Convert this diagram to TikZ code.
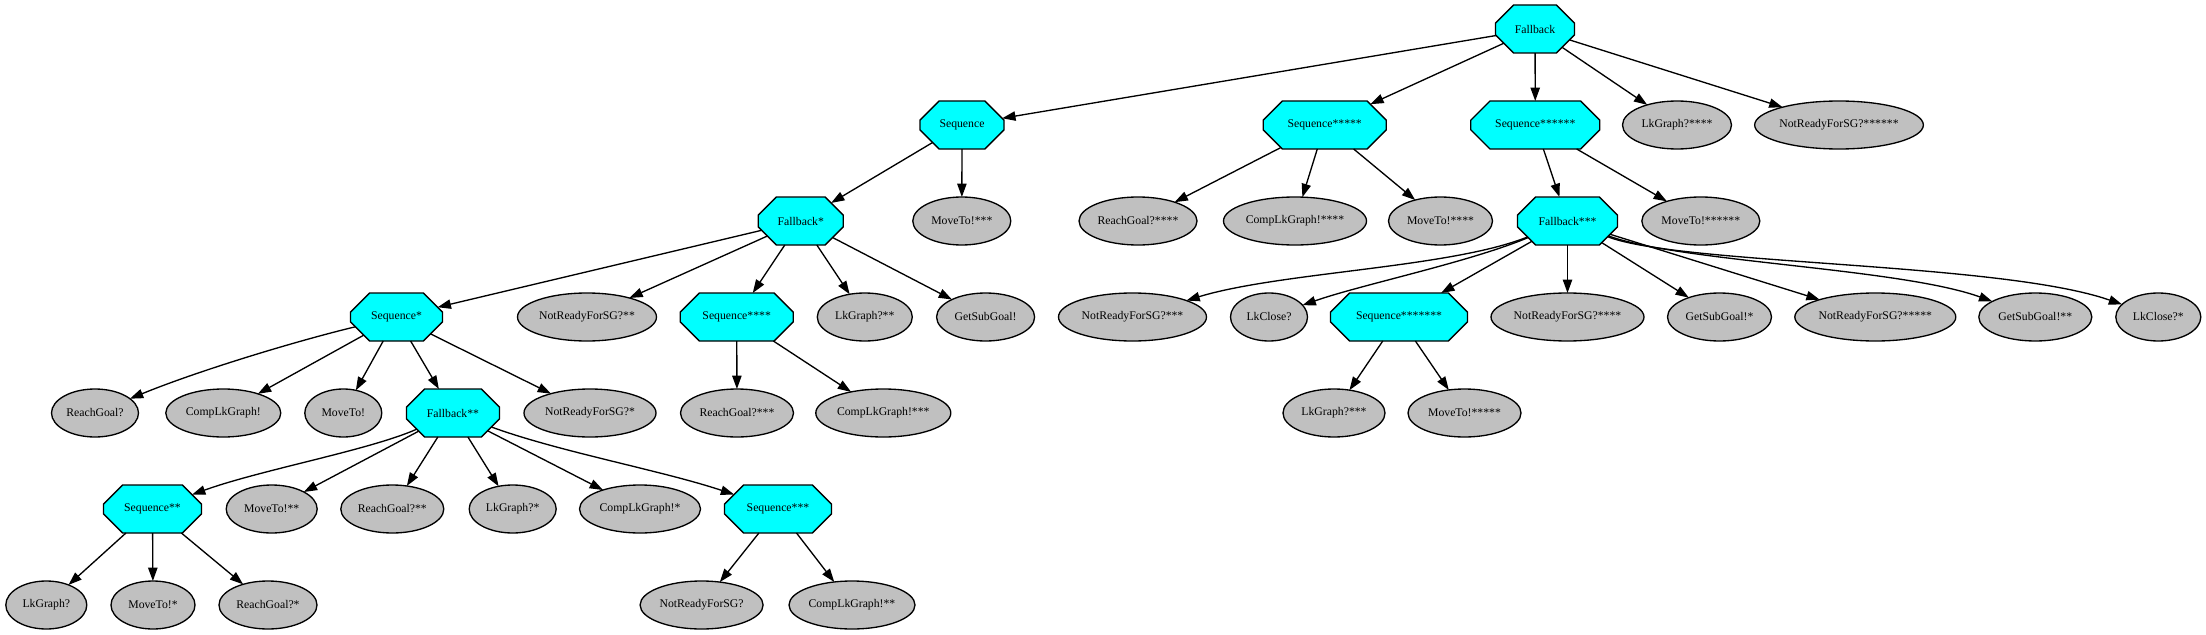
\documentclass[tikz,border=0pt]{standalone}
\usepackage{fontspec}
\setmainfont{Liberation Serif}
\usetikzlibrary{shapes.geometric,shapes.misc,arrows.meta}
\definecolor{ctrlcyan}{RGB}{0,255,255}
\definecolor{leafgray}{RGB}{192,192,192}
\tikzset{
  base/.style={draw=black, line width=1pt, inner sep=0pt, outer sep=0pt,
    font=\fontsize{8.8pt}{10pt}\selectfont, minimum height=36pt},
  leaf/.style={base, ellipse, fill=leafgray},
  ctrl/.style={base, chamfered rectangle, fill=ctrlcyan,
    chamfered rectangle ysep=10.5pt, chamfered rectangle xsep=#1},
  ctrl/.default=11.25pt,
  edge/.style={line width=1pt, -{Triangle[length=10pt,width=7pt]}},
}
\begin{document}
\begin{tikzpicture}[x=0.75pt,y=-0.75pt]
\useasboundingbox (0,0) rectangle (2206,635);
% level 0
\node[ctrl=11.25pt, minimum width=59.25pt] (fb) at (1535,29) {Fallback};
% level 1
\node[ctrl=11.25pt, minimum width=63pt] (seq) at (962,125) {Sequence};
\node[ctrl=18pt, minimum width=92.25pt] (seq5) at (1324.7,125) {Sequence*****};
\node[ctrl=21.75pt, minimum width=96.75pt] (seq6) at (1535.3,125) {Sequence******};
\node[leaf, minimum width=81.75pt] (lk4) at (1677,125) {LkGraph?****};
\node[leaf, minimum width=124.5pt] (nr6) at (1839,125) {NotReadyForSG?******};
% level 2
\node[ctrl=11.25pt, minimum width=63.75pt] (fb1) at (800.8,221) {Fallback*};
\node[leaf, minimum width=73.5pt] (mv3) at (961.8,221) {MoveTo!***};
\node[leaf, minimum width=88.5pt] (rg4) at (1138,221) {ReachGoal?****};
\node[leaf, minimum width=107.25pt] (cl4) at (1295,221) {CompLkGraph!****};
\node[leaf, minimum width=78pt] (mv4) at (1440.5,221) {MoveTo!****};
\node[ctrl=10.5pt, minimum width=75pt] (fb3) at (1567.5,221) {Fallback***};
\node[leaf, minimum width=88.5pt] (mv6) at (1700.8,221) {MoveTo!******};
% level 3
\node[ctrl=14.25pt, minimum width=69pt] (seq1) at (396.5,317) {Sequence*};
\node[leaf, minimum width=104.25pt] (nr2) at (587,317) {NotReadyForSG?**};
\node[ctrl=24pt, minimum width=84.75pt] (seq4) at (736.7,317) {Sequence****};
\node[leaf, minimum width=71.25pt] (lk2) at (864.8,317) {LkGraph?**};
\node[leaf, minimum width=73.5pt] (gs0) at (985.6,317) {GetSubGoal!};
\node[leaf, minimum width=111pt] (nr3) at (1132.5,317) {NotReadyForSG?***};
\node[leaf, minimum width=57.75pt] (lc0) at (1269,317) {LkClose?};
\node[ctrl=27pt, minimum width=102.75pt] (seq7) at (1399,317) {Sequence*******};
\node[leaf, minimum width=114.75pt] (nr4) at (1567.5,317) {NotReadyForSG?****};
\node[leaf, minimum width=78pt] (gs1) at (1719.5,317) {GetSubGoal!*};
\node[leaf, minimum width=120.75pt] (nr5) at (1875.3,317) {NotReadyForSG?*****};
\node[leaf, minimum width=84.75pt] (gs2) at (2035.3,317) {GetSubGoal!**};
\node[leaf, minimum width=63.75pt] (lc1) at (2158.3,317) {LkClose?*};
% level 4
\node[leaf, minimum width=65.25pt] (rg0) at (95,413) {ReachGoal?};
\node[leaf, minimum width=86.25pt] (cl0) at (223.3,413) {CompLkGraph!};
\node[leaf, minimum width=57.75pt] (mv0) at (343.3,413) {MoveTo!};
\node[ctrl=10.5pt, minimum width=69.75pt] (fb2) at (453,413) {Fallback**};
\node[leaf, minimum width=99pt] (nr1) at (590,413) {NotReadyForSG?*};
\node[leaf, minimum width=84.75pt] (rg3) at (737,413) {ReachGoal?***};
\node[leaf, minimum width=101.25pt] (cl3) at (883.3,413) {CompLkGraph!***};
\node[leaf, minimum width=76.5pt] (lk3) at (1334,413) {LkGraph?***};
\node[leaf, minimum width=84.75pt] (mv5) at (1464.5,413) {MoveTo!*****};
% level 5
\node[ctrl=21pt, minimum width=73.5pt] (seq2) at (152.5,509) {Sequence**};
\node[leaf, minimum width=68.25pt] (mv2) at (271.7,509) {MoveTo!**};
\node[leaf, minimum width=77.25pt] (rg2) at (392.3,509) {ReachGoal?**};
\node[leaf, minimum width=65.25pt] (lk1) at (512.7,509) {LkGraph?*};
\node[leaf, minimum width=90.75pt] (cl1) at (640,509) {CompLkGraph!*};
\node[ctrl=10.5pt, minimum width=80.25pt] (seq3) at (778,509) {Sequence***};
% level 6
\node[leaf, minimum width=60.75pt] (lk0) at (46.3,605) {LkGraph?};
\node[leaf, minimum width=63pt] (mv1) at (153,605) {MoveTo!*};
\node[leaf, minimum width=73.5pt] (rg1) at (268,605) {ReachGoal?*};
\node[leaf, minimum width=92.25pt] (nr0) at (701.6,605) {NotReadyForSG?};
\node[leaf, minimum width=94.5pt] (cl2) at (852,605) {CompLkGraph!**};
% edges
\draw[edge] (fb) -- (seq);
\draw[edge] (fb) -- (seq5);
\draw[edge] (fb) -- (seq6);
\draw[edge] (fb) -- (lk4);
\draw[edge] (fb) -- (nr6);
\draw[edge] (seq) -- (fb1);
\draw[edge] (seq) -- (mv3);
\draw[edge] (fb1) -- (seq1);
\draw[edge] (fb1) -- (nr2);
\draw[edge] (fb1) -- (seq4);
\draw[edge] (fb1) -- (lk2);
\draw[edge] (fb1) -- (gs0);
\draw[edge] (seq1) .. controls (300,340) and (200,370) .. (rg0);
\draw[edge] (seq1) -- (cl0);
\draw[edge] (seq1) -- (mv0);
\draw[edge] (seq1) -- (fb2);
\draw[edge] (seq1) -- (nr1);
\draw[edge] (fb2) .. controls (370,450) and (260,470) .. (seq2);
\draw[edge] (fb2) -- (mv2);
\draw[edge] (fb2) -- (rg2);
\draw[edge] (fb2) -- (lk1);
\draw[edge] (fb2) -- (cl1);
\draw[edge] (fb2) .. controls (560,452) and (660,470) .. (seq3);
\draw[edge] (seq2) -- (lk0);
\draw[edge] (seq2) -- (mv1);
\draw[edge] (seq2) -- (rg1);
\draw[edge] (seq3) -- (nr0);
\draw[edge] (seq3) -- (cl2);
\draw[edge] (seq4) -- (rg3);
\draw[edge] (seq4) -- (cl3);
\draw[edge] (seq5) -- (rg4);
\draw[edge] (seq5) -- (cl4);
\draw[edge] (seq5) -- (mv4);
\draw[edge] (seq6) -- (fb3);
\draw[edge] (seq6) -- (mv6);
\draw[edge] (fb3) .. controls (1450,268) and (1280,272) .. (nr3);
\draw[edge] (fb3) .. controls (1470,262) and (1360,285) .. (lc0);
\draw[edge] (fb3) -- (seq7);
\draw[edge] (fb3) -- (nr4);
\draw[edge] (fb3) -- (gs1);
\draw[edge] (fb3) -- (nr5);
\draw[edge] (fb3) .. controls (1680,262) and (1900,268) .. (gs2);
\draw[edge] (fb3) .. controls (1680,265) and (2000,262) .. (lc1);
\draw[edge] (seq7) -- (lk3);
\draw[edge] (seq7) -- (mv5);
\end{tikzpicture}
\end{document}
